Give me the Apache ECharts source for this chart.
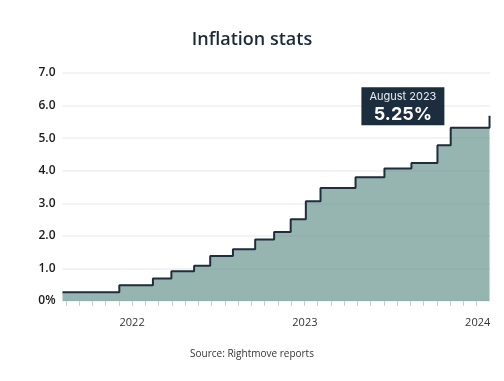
<!DOCTYPE html>
<html>
<head>
<meta charset="utf-8">
<script src="https://cdn.jsdelivr.net/npm/echarts@6/dist/echarts.min.js"></script>
<style>
html,body{margin:0;padding:0;background:#fff;}
#chart{width:504px;height:381px;}
</style>
</head>
<body>
<div id="chart"></div>
<script>
// ---- data ----
const stepDates = ['2021-08-07','2021-12-05','2022-02-14','2022-03-25','2022-05-12','2022-06-15','2022-08-02','2022-09-18','2022-10-28','2022-12-02','2023-01-03','2023-02-03','2023-04-18','2023-06-18','2023-08-14','2023-10-08','2023-11-05','2024-01-26'];
const rateValues = [0.27,0.48,0.69,0.91,1.08,1.38,1.59,1.89,2.12,2.51,3.06,3.47,3.80,4.07,4.24,4.78,5.32,5.69];
const axisStart = '2021-08-07';
const axisEnd = '2024-01-27';
const tickDays = [-140,-112,-84,-56,-28,0,28,56,84,112,140,168,196,224,252,280,308,336,364,392,420,448,476,504,532,560,588,616,644,672,700,728];
const yearDays = [0,365,730];
const yearLabels = ['2022','2023','2024'];
const calloutTitle = 'August 2023';
const calloutValue = '5.25%';
const calloutDate = '2023-07-27';
const calloutLevel = 5.98;
const chartTitle = 'Inflation stats';
const sourceText = 'Source: Rightmove reports';

// ---- helpers ----
const BASE = Date.UTC(2022,0,1);
const toDay = s => (Date.parse(s + 'T00:00:00Z') - BASE) / 86400000;
const seriesData = stepDates.map((d,i) => [toDay(d), rateValues[i]]);

const FONT = "'Open Sans', 'Noto Sans', sans-serif";
const chart = echarts.init(document.getElementById('chart'), null, {renderer:'canvas'});
chart.setOption({
  animation: false,
  textStyle: {fontFamily: FONT},
  title: [
    {text: chartTitle, left: 'center', top: 26, textStyle: {fontFamily: FONT, fontSize: 18, fontWeight: 600, color: '#1b2a38'}},
    {text: sourceText, left: 'center', top: 344, textStyle: {fontFamily: FONT, fontSize: 10, fontWeight: 'normal', color: '#333'}}
  ],
  grid: {left: 62.5, right: 14, top: 73, bottom: 80, containLabel: false},
  xAxis: {
    type: 'value',
    min: toDay(axisStart),
    max: toDay(axisEnd),
    axisLine: {show: false},
    splitLine: {show: false},
    axisTick: {show: true, customValues: tickDays, length: 5, lineStyle: {color: '#cccccc', width: 1}},
    axisLabel: {customValues: yearDays, formatter: v => yearLabels[yearDays.indexOf(v)], margin: 16, color: '#333', fontSize: 11, fontFamily: FONT}
  },
  yAxis: {
    type: 'value',
    min: 0, max: 7, interval: 1,
    axisLine: {show: false},
    axisTick: {show: false},
    axisLabel: {formatter: v => v === 0 ? '0%' : v.toFixed(1), color: '#1a1a1a', fontWeight: 600, fontSize: 12, margin: 7, fontFamily: FONT},
    splitLine: {lineStyle: {color: '#efefef', width: 1.5}}
  },
  series: [{
    type: 'line',
    step: 'end',
    symbol: 'none',
    clip: false,
    data: seriesData,
    lineStyle: {color: '#1d2e3d', width: 2},
    areaStyle: {color: 'rgba(80,132,123,0.6)', opacity: 1},
    markPoint: {
      symbol: 'rect',
      symbolSize: [83, 38],
      silent: true,
      itemStyle: {color: '#1c2e3e'},
      label: {
        show: true,
        position: 'inside',
        formatter: '{a|' + calloutTitle + '}\n{b|' + calloutValue + '}',
        rich: {
          a: {color: '#e8edf0', fontSize: 11, fontFamily: 'Inter, Roboto, sans-serif', lineHeight: 16},
          b: {color: '#ffffff', fontSize: 18, fontWeight: 'bold', fontFamily: 'Inter, Roboto, sans-serif', lineHeight: 20}
        }
      },
      data: [{coord: [toDay(calloutDate), calloutLevel]}]
    }
  }]
});
</script>
</body>
</html>
